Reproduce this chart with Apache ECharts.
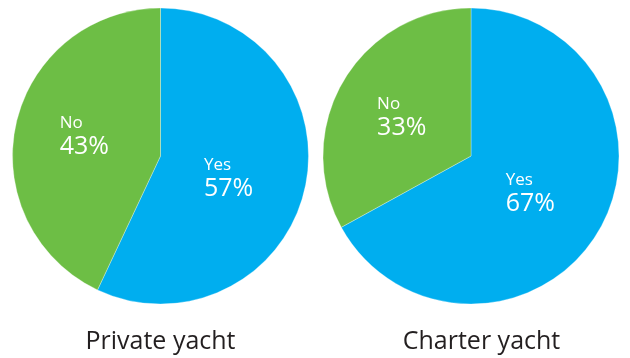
<!DOCTYPE html>
<html>
<head>
<meta charset="utf-8">
<script src="https://cdn.jsdelivr.net/npm/echarts@6/dist/echarts.min.js"></script>
<style>
  html, body { margin: 0; padding: 0; background: #fff; }
  #chart { width: 630px; height: 358px; }
</style>
</head>
<body>
<div id="chart"></div>
<script>
// Survey answers per yacht type
const answers = ['Yes', 'No'];
const privateYacht = [57, 43];
const charterYacht = [67, 33];
const pieTitles = ['Private yacht', 'Charter yacht'];

const colors = ['#00AEEF', '#6DBE45'];

function toData(values) {
  return answers.map((name, i) => ({ name, value: values[i] }));
}

function pieSeries(values, center, nudge) {
  return {
    type: 'pie',
    radius: 148,
    center: center,
    startAngle: 90,
    clockwise: true,
    silent: true,
    data: toData(values),
    itemStyle: { borderColor: 'rgba(255,255,255,0.6)', borderWidth: 0.5 },
    label: {
      show: true,
      position: 'inside',
      formatter: '{a|{b}}\n{b|{c}%}',
      fontFamily: 'Open Sans',
      color: '#fff',
      rich: {
        a: { fontSize: 17, lineHeight: 20, color: '#fff', align: 'left', fontFamily: 'Open Sans' },
        b: { fontSize: 25, lineHeight: 28, color: '#fff', align: 'left', fontFamily: 'Open Sans' }
      }
    },
    // small per-slice shift of the value labels
    labelLayout: function (p) {
      const d = nudge[p.dataIndex] || [0, 0];
      return { dx: d[0], dy: d[1] };
    },
    labelLine: { show: false }
  };
}

const titleStyle = { fontFamily: 'Open Sans', fontSize: 25, fontWeight: 'normal', color: '#231f20' };

const chart = echarts.init(document.getElementById('chart'), null, { renderer: 'canvas' });
chart.setOption({
  animation: false,
  color: colors,
  title: [
    { text: pieTitles[0], left: 155.5, top: 324, textAlign: 'center', textStyle: titleStyle },
    { text: pieTitles[1], left: 476.5, top: 324, textAlign: 'center', textStyle: titleStyle }
  ],
  series: [
    pieSeries(privateYacht, [160.5, 156], [[-7, 6], [-1, -2]]),
    pieSeries(charterYacht, [471, 156], [[-7, -1], [-3, 1]])
  ]
});
</script>
</body>
</html>
